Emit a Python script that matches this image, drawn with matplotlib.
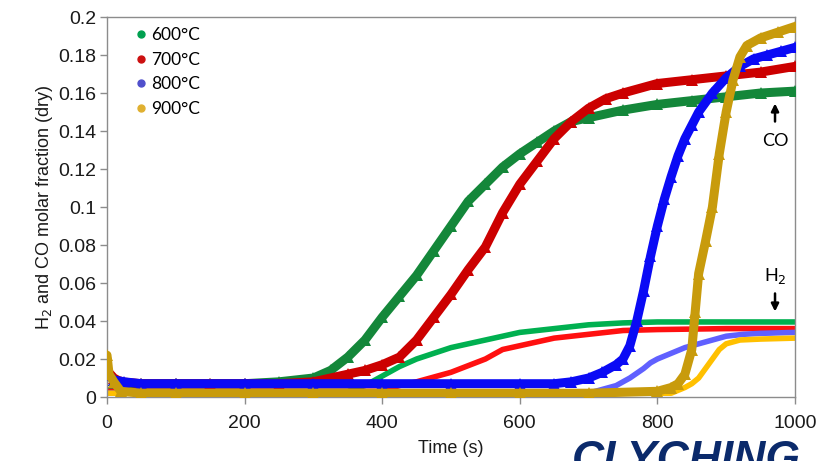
# ===============================
# CO and H2 release curves at four temperatures
# ===============================

import matplotlib
matplotlib.use("Agg")
import matplotlib.pyplot as plt
from matplotlib.lines import Line2D
from matplotlib.ticker import FuncFormatter, MultipleLocator

# ===============================
# Data (time in s, dry molar fraction)
# ===============================
temps = ["600°C", "700°C", "800°C", "900°C"]

# CO
t_co_600 = [0, 10, 20, 50, 100, 150, 200, 250, 300, 325, 350, 375, 400, 425, 450, 475, 500,
            525, 550, 575, 600, 625, 650, 675, 700, 750, 800, 850, 900, 950, 1000]
co_600 = [0.013, 0.009, 0.007, 0.007, 0.007, 0.007, 0.007, 0.008, 0.010, 0.014, 0.021, 0.030,
          0.042, 0.053, 0.064, 0.077, 0.090, 0.103, 0.112, 0.121, 0.128, 0.134, 0.140, 0.145,
          0.147, 0.151, 0.154, 0.156, 0.158, 0.160, 0.161]

t_co_700 = [0, 10, 20, 50, 100, 150, 200, 250, 300, 350, 375, 400, 425, 450, 475, 500, 525,
            550, 575, 600, 625, 650, 675, 700, 725, 750, 800, 850, 900, 950, 1000]
co_700 = [0.014, 0.010, 0.008, 0.007, 0.007, 0.007, 0.007, 0.007, 0.008, 0.012, 0.014, 0.017,
          0.021, 0.030, 0.042, 0.054, 0.067, 0.079, 0.097, 0.112, 0.124, 0.136, 0.145, 0.152,
          0.157, 0.160, 0.165, 0.167, 0.169, 0.171, 0.174]

t_co_800 = [0, 10, 25, 50, 100, 200, 300, 400, 500, 600, 650, 675, 700, 720, 740, 750, 760,
            770, 780, 790, 800, 810, 820, 830, 840, 850, 860, 880, 900, 920, 940, 960, 980, 1000]
co_800 = [0.012, 0.009, 0.008, 0.007, 0.007, 0.007, 0.007, 0.007, 0.007, 0.007, 0.007, 0.008,
          0.010, 0.013, 0.017, 0.020, 0.027, 0.040, 0.056, 0.074, 0.090, 0.104, 0.116, 0.127,
          0.136, 0.143, 0.150, 0.160, 0.168, 0.174, 0.178, 0.180, 0.182, 0.184]

t_co_900 = [0, 3, 10, 20, 50, 100, 200, 300, 400, 500, 600, 700, 800, 820, 830, 840, 850, 855,
            860, 870, 880, 890, 900, 910, 920, 930, 950, 975, 1000]
co_900 = [0.022, 0.012, 0.008, 0.003, 0.002, 0.002, 0.002, 0.002, 0.002, 0.002, 0.002, 0.002,
          0.003, 0.005, 0.007, 0.012, 0.025, 0.045, 0.065, 0.082, 0.100, 0.128, 0.150, 0.167,
          0.179, 0.185, 0.189, 0.192, 0.195]

# H2
t_h2_600 = [0, 25, 100, 200, 300, 350, 375, 400, 425, 450, 475, 500, 550, 600, 650, 700, 750,
            800, 900, 1000]
h2_600 = [0.004, 0.003, 0.003, 0.003, 0.003, 0.003, 0.006, 0.011, 0.016, 0.020, 0.023, 0.026,
          0.030, 0.034, 0.036, 0.038, 0.039, 0.0395, 0.0395, 0.0395]

t_h2_700 = [0, 100, 200, 300, 400, 425, 450, 475, 500, 550, 575, 600, 650, 700, 750, 800, 900,
            1000]
h2_700 = [0.003, 0.003, 0.003, 0.003, 0.003, 0.006, 0.008, 0.0105, 0.013, 0.020, 0.025, 0.027,
          0.031, 0.033, 0.035, 0.0355, 0.036, 0.036]

t_h2_800 = [0, 100, 200, 300, 400, 500, 600, 700, 720, 740, 760, 780, 790, 800, 820, 840, 860,
            880, 900, 925, 950, 1000]
h2_800 = [0.002, 0.002, 0.002, 0.002, 0.002, 0.002, 0.002, 0.002, 0.004, 0.006, 0.010, 0.015,
          0.018, 0.020, 0.023, 0.026, 0.028, 0.030, 0.032, 0.033, 0.0335, 0.034]

t_h2_900 = [0, 100, 200, 300, 400, 500, 600, 700, 800, 820, 840, 850, 860, 870, 880, 890, 900,
            920, 950, 1000]
h2_900 = [0.002, 0.002, 0.002, 0.002, 0.002, 0.002, 0.002, 0.002, 0.002, 0.002, 0.005, 0.007,
          0.010, 0.015, 0.020, 0.025, 0.028, 0.030, 0.0305, 0.031]

# ===============================
# Colours
# ===============================
co_colors = ["#14873a", "#cc0000", "#0a0af5", "#c89b0c"]
h2_colors = ["#00b050", "#ff1010", "#6060ff", "#ffc000"]
legend_colors = ["#00a050", "#cc1010", "#5050cc", "#e0b030"]
frame_color = "#8c8c8c"

co_series = [(t_co_600, co_600), (t_co_700, co_700), (t_co_800, co_800), (t_co_900, co_900)]
h2_series = [(t_h2_600, h2_600), (t_h2_700, h2_700), (t_h2_800, h2_800), (t_h2_900, h2_900)]

# ===============================
# Plot
# ===============================
plt.rcParams["font.family"] = ["Liberation Sans", "DejaVu Sans"]

fig = plt.figure(figsize=(8.25, 4.61), dpi=100)
ax = fig.add_axes([0.1297, 0.1388, 0.8339, 0.8243])

# smooth H2 curves underneath
for (t, y), c in zip(h2_series, h2_colors):
    ax.plot(t, y, color=c, lw=4, solid_capstyle="round", zorder=2)

# noisy CO bands (triangle markers) on top
for (t, y), c in zip(co_series, co_colors):
    ax.plot(t, y, color=c, lw=6.5, marker="^", markersize=8, markeredgewidth=0,
            solid_capstyle="round", zorder=3)

ax.set_xlim(0, 1000)
ax.set_ylim(0, 0.2)
ax.xaxis.set_major_locator(MultipleLocator(200))
ax.yaxis.set_major_locator(MultipleLocator(0.02))
ax.yaxis.set_major_formatter(FuncFormatter(lambda v, p: "%g" % round(v, 3)))

for s in ax.spines.values():
    s.set_color(frame_color)
    s.set_linewidth(1)
ax.tick_params(direction="out", length=5, width=1, color=frame_color,
               labelsize=14, labelcolor="#1a1a1a", pad=3)
ax.tick_params(axis="x", pad=8)

ax.set_xlabel("Time (s)", fontsize=13, color="#1a1a1a", labelpad=6)
ax.set_ylabel("H$_2$ and CO molar fraction (dry)", fontsize=13, color="#1a1a1a", labelpad=2)

# ===============================
# Legend
# ===============================
handles = [Line2D([], [], ls="none", marker="o", markersize=5, color=c) for c in legend_colors]
leg = ax.legend(handles, temps, loc="upper left", bbox_to_anchor=(0.02, 1.015), frameon=False,
                handlelength=0.5, handletextpad=0.35, labelspacing=0.5,
                prop={"family": "Lato", "size": 12.5})

# ===============================
# Annotations
# ===============================
ax.annotate("", xy=(971, 0.1545), xytext=(971, 0.1450),
            arrowprops=dict(arrowstyle="-|>", color="black", lw=1.8, mutation_scale=11,
                            shrinkA=0, shrinkB=0))
ax.text(971, 0.1350, "CO", ha="center", va="center", fontsize=13, family="Lato")

ax.annotate("", xy=(971, 0.0450), xytext=(971, 0.0545),
            arrowprops=dict(arrowstyle="-|>", color="black", lw=1.8, mutation_scale=11,
                            shrinkA=0, shrinkB=0))
ax.text(971, 0.0635, "H$_2$", ha="center", va="center", fontsize=13, family="Lato")

fig.text(0.693, 0.046, "CLYCHING", ha="left", va="top", fontsize=32, fontweight="bold",
         fontstyle="italic", color="#0b2a6b")

fig.savefig("out.png", dpi=100)
